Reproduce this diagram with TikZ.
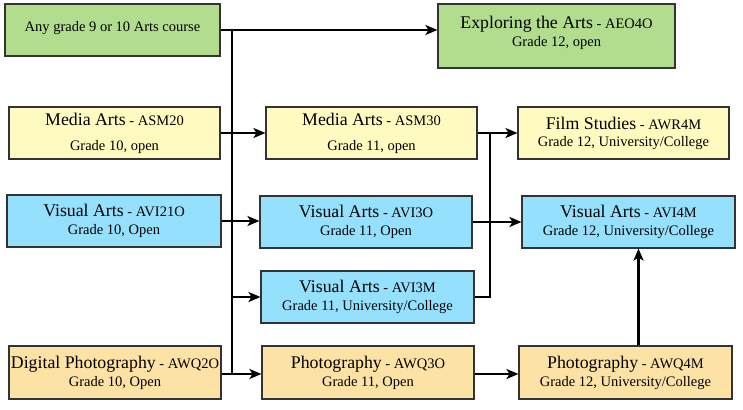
\documentclass[tikz,border=0pt]{standalone}
\usepackage{fontspec}
\setmainfont{Liberation Serif}
\usepackage{xcolor}
\usetikzlibrary{arrows.meta}

\definecolor{artgreen}{HTML}{B3DD8E}
\definecolor{mediayel}{HTML}{FFFABF}
\definecolor{visblue}{HTML}{95E1FD}
\definecolor{photoorg}{HTML}{FDE2A5}

\newcommand{\ttl}[1]{{\fontsize{17.8}{20}\selectfont #1}}

\tikzset{
  course/.style={draw=black!80, line width=1.1pt, inner sep=0pt, align=center,
    minimum width=212pt, minimum height=52pt, font=\fontsize{14.5}{17}\selectfont},
  link/.style={line width=2.2pt},
  arr/.style={link, -{Stealth[length=12pt,width=10pt,inset=3pt]}}
}

\begin{document}
\begin{tikzpicture}[x=1pt, y=-1pt]
    \useasboundingbox (0,0) rectangle (743,409);
    % grade 9/10 and grade 12 open
    \node[course, fill=artgreen, minimum width=215pt, text depth=8pt] (any) at (112.5,30) {Any grade 9 or 10 Arts course};
    \node[course, fill=artgreen, minimum width=237pt, minimum height=64pt, text depth=10pt] (expl) at (556.5,36) {\ttl{Exploring the Arts} - AEO4O\\[1pt] Grade 12, open};
    % media arts row
    \node[course, fill=mediayel, minimum width=211pt] (asm2) at (114.5,133) {\ttl{Media Arts} - ASM20\\[8pt] Grade 10, open};
    \node[course, fill=mediayel, minimum width=211pt] (asm3) at (371.5,133) {\ttl{Media Arts} - ASM30\\[8pt] Grade 11, open};
    \node[course, fill=mediayel, minimum width=211pt] (film) at (623.5,133) {\ttl{Film Studies} - AWR4M\\[0pt] Grade 12, University/College};
    % visual arts rows
    \node[course, fill=visblue, minimum width=214pt] (avi2) at (114,221) {\ttl{Visual Arts} - AVI21O\\[1pt] Grade 10, Open};
    \node[course, fill=visblue] (avi3o) at (366,222) {\ttl{Visual Arts} - AVI3O\\[1pt] Grade 11, Open};
    \node[course, fill=visblue, minimum width=213pt] (avi3m) at (367.5,297) {\ttl{Visual Arts} - AVI3M\\[1pt] Grade 11, University/College};
    \node[course, fill=visblue, minimum width=213pt] (avi4) at (628.5,222) {\ttl{Visual Arts} - AVI4M\\[1pt] Grade 12, University/College};
    % photography row
    \node[course, fill=photoorg, minimum height=53pt] (awq2) at (115,372.5) {\ttl{Digital Photography} - AWQ2O\\[1pt] Grade 10, Open};
    \node[course, fill=photoorg, minimum height=53pt] (awq3) at (368,372.5) {\ttl{Photography} - AWQ3O\\[1pt] Grade 11, Open};
    \node[course, fill=photoorg, minimum width=213pt, minimum height=53pt] (awq4) at (625.5,372.5) {\ttl{Photography} - AWQ4M\\[1pt] Grade 12, University/College};

    % junction points
    \coordinate (jtop) at (232,30);
    \coordinate (jbot) at (232,374);
    \coordinate (jmid) at (490,133);

    % connectors
    \draw[arr] (any.east) -- (any.east -| expl.west);
    \draw[link] (jtop) -- (jbot);
    \draw[arr] (asm2.east) -- (asm3.west);
    \draw[arr] (avi2.east) -- (avi2.east -| avi3o.west);
    \draw[arr] (jbot |- avi3m.west) -- (avi3m.west);
    \draw[arr] (awq2.east |- jbot) -- (awq3.west |- jbot);
    \draw[arr] (asm3.east) -- (film.west);
    \draw[link] (avi3m.east) -| (jmid);
    \draw[arr] (avi3o.east) -- (avi3o.east -| avi4.west);
    \draw[arr] (awq3.east |- jbot) -- (awq4.west |- jbot);
    \draw[arr] ([xshift=13pt]awq4.north) -- ([xshift=13pt]awq4.north |- avi4.south);
\end{tikzpicture}
\end{document}
